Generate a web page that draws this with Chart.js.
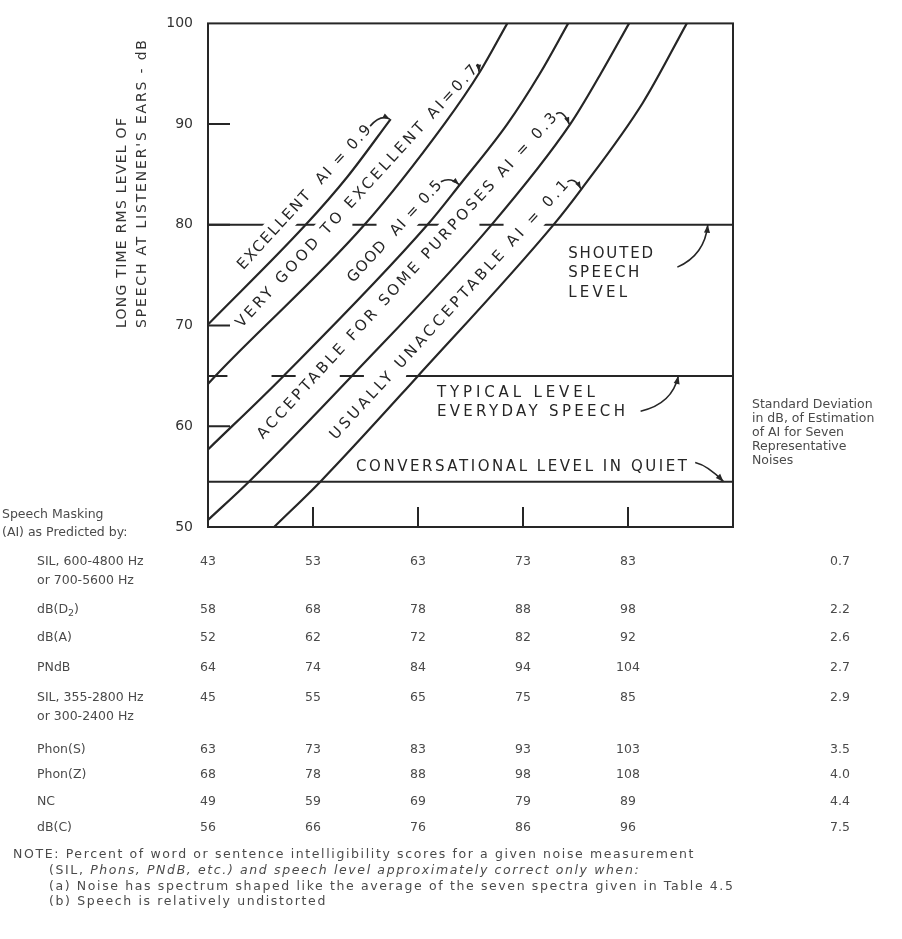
<!DOCTYPE html>
<html>
<head>
<meta charset="utf-8">
<script src="https://cdn.jsdelivr.net/npm/chart.js@4.4.1/dist/chart.umd.min.js"></script>
<style>
  html, body { margin: 0; padding: 0; background: #fff; }
  #wrap { width: 902px; height: 939px; }
</style>
</head>
<body>
<div id="wrap"><canvas id="myChart" width="902" height="939"></canvas></div>
<script>
// AI contours: [SIL (600-4800 Hz), speech level dB]
ai09 = [[43, 70.1], [52.3, 80], [56.3, 84.8], [60.4, 90.5]];
ai07 = [[43, 64.2], [43.7, 65], [57.9, 80], [65.5, 90], [68.9, 95.2], [71.5, 100]];
ai05 = [[43, 57.7], [50.2, 65], [63.9, 80], [67.0, 84.0], [71.5, 90], [74.6, 95], [77.3, 100]];
ai03 = [[43, 50.7], [46.9, 54.5], [56.7, 65], [70.0, 80], [77.5, 90], [80.4, 95], [83.1, 100]];
ai01 = [[49.3, 50], [53.7, 54.5], [63, 65], [75.9, 80], [78.6, 83.6], [84.4, 92.1], [88.6, 100]];

// speech levels
shoutedLevel = 80;
typicalLevel = 65;
quietLevel = 54.5;

yTicks = [50, 60, 70, 80, 90, 100];

// table under the chart
measureNames = ["SIL, 600-4800 Hz", "dB(D_2)", "dB(A)", "PNdB", "SIL, 355-2800 Hz", "Phon(S)", "Phon(Z)", "NC", "dB(C)"];
measureSub = ["or 700-5600 Hz", "", "", "", "or 300-2400 Hz", "", "", "", ""];
measureValues = [
    [43, 53, 63, 73, 83],
    [58, 68, 78, 88, 98],
    [52, 62, 72, 82, 92],
    [64, 74, 84, 94, 104],
    [45, 55, 65, 75, 85],
    [63, 73, 83, 93, 103],
    [68, 78, 88, 98, 108],
    [49, 59, 69, 79, 89],
    [56, 66, 76, 86, 96]
];
stdDev = ["0.7", "2.2", "2.6", "2.7", "2.9", "3.5", "4.0", "4.4", "7.5"];

var curves = [ai09, ai07, ai05, ai03, ai01];
var LETTER = '"DejaVu Sans", sans-serif';
var PLAIN = '"DejaVu Sans", sans-serif';
var INK = '#262626';
var ANG = 47.5 * Math.PI / 180;

function crossX(curve, lvl) {
    for (var i = 0; i < curve.length - 1; i++) {
        var a = curve[i], b = curve[i + 1];
        if ((a[1] - lvl) * (b[1] - lvl) <= 0 && a[1] !== b[1])
            return a[0] + (b[0] - a[0]) * (lvl - a[1]) / (b[1] - a[1]);
    }
    return null;
}

// level line drawn only outside the contours, with short marks where it crosses them
function brokenLine(lvl) {
    var xs = curves.map(function (c) { return crossX(c, lvl); })
        .filter(function (v) { return v !== null; }).sort(function (a, b) { return a - b; });
    var d = 1.15, pts = [{x: 43, y: lvl}, {x: xs[0] + d, y: lvl}, {x: xs[0] + d, y: null}];
    for (var i = 1; i < xs.length - 1; i++) {
        pts.push({x: xs[i] - d, y: lvl}, {x: xs[i] + d, y: lvl}, {x: xs[i] + d, y: null});
    }
    pts.push({x: xs[xs.length - 1] - d, y: lvl}, {x: 93, y: lvl});
    return pts;
}

function spacingFor(ctx, str, width) {
    ctx.letterSpacing = '0px';
    return (width - ctx.measureText(str).width) / Math.max(1, str.length - 1);
}

function fitText(ctx, str, x, y, width) {
    var sp = width ? spacingFor(ctx, str, width) : 0;
    ctx.letterSpacing = sp.toFixed(2) + 'px';
    ctx.fillText(str, x, y);
    ctx.letterSpacing = '0px';
}

function arrow(ctx, x0, y0, cx, cy, x1, y1, head) {
    ctx.beginPath();
    ctx.moveTo(x0, y0);
    ctx.quadraticCurveTo(cx, cy, x1, y1);
    ctx.stroke();
    var a = Math.atan2(y1 - cy, x1 - cx);
    var w = head * 0.38;
    ctx.beginPath();
    ctx.moveTo(x1, y1);
    ctx.lineTo(x1 - head * Math.cos(a) + w * Math.sin(a), y1 - head * Math.sin(a) - w * Math.cos(a));
    ctx.lineTo(x1 - head * Math.cos(a) - w * Math.sin(a), y1 - head * Math.sin(a) + w * Math.cos(a));
    ctx.closePath();
    ctx.fill();
}

var diagLabels = [
    {text: 'EXCELLENT  AI = 0.9', sil: 52.2, db: 82.7, len: 190, curve: ai09, at: 90.5},
    {text: 'VERY GOOD TO EXCELLENT AI=0.7', sil: 57.2, db: 82.8, len: 350, curve: ai07, at: 95.2},
    {text: 'GOOD  AI = 0.5', sil: 60.8, db: 79.3, len: 132, curve: ai05, at: 84.0},
    {text: 'ACCEPTABLE FOR SOME PURPOSES AI = 0.3', sil: 62.0, db: 74.9, len: 436, curve: ai03, at: 90},
    {text: 'USUALLY UNACCEPTABLE AI = 0.1', sil: 66.0, db: 71.5, len: 345, curve: ai01, at: 83.6}
];

var levelNotes = [
    {lines: ['SHOUTED', 'SPEECH', 'LEVEL'], widths: [85, 71, 59], sil: 77.3, db: 77.1,
        from: [87.7, 75.8], ctrl: [90.3, 77.0], to: [90.6, shoutedLevel]},
    {lines: ['TYPICAL LEVEL', 'EVERYDAY SPEECH'], widths: [158, 188], sil: 64.8, db: 63.3,
        from: [84.2, 61.5], ctrl: [87.2, 62.2], to: [87.8, typicalLevel]},
    {lines: ['CONVERSATIONAL LEVEL IN QUIET'], widths: [331], sil: 57.1, db: 55.9,
        from: [89.4, 56.4], ctrl: [90.6, 56.1], to: [92.1, quietLevel]}
];

var drawing = {
    id: 'drawing',
    afterDatasetDraw: function (chart, args) {
        // after the level lines, before the contours: clear the lines behind the slanted labels
        if (args.index !== 5) return;
        var ctx = chart.ctx, xs = chart.scales.x, ys = chart.scales.y;
        ctx.save();
        ctx.fillStyle = '#fff';
        diagLabels.forEach(function (d) {
            ctx.save();
            ctx.translate(xs.getPixelForValue(d.sil), ys.getPixelForValue(d.db));
            ctx.rotate(-ANG);
            ctx.fillRect(-d.len / 2 - 4, -12, d.len + 8, 24);
            ctx.restore();
        });
        ctx.restore();
    },
    afterDatasetsDraw: function (chart) {
        var ctx = chart.ctx, xs = chart.scales.x, ys = chart.scales.y, ca = chart.chartArea;
        ctx.save();
        ctx.strokeStyle = INK;
        ctx.fillStyle = INK;
        ctx.lineWidth = 2;
        ctx.strokeRect(ca.left, ca.top, ca.right - ca.left, ca.bottom - ca.top);

        // inward ticks
        ctx.beginPath();
        yTicks.slice(1, -1).forEach(function (v) {
            var y = ys.getPixelForValue(v);
            ctx.moveTo(ca.left, y); ctx.lineTo(ca.left + 22, y);
        });
        measureValues[0].slice(1).forEach(function (v) {
            var x = xs.getPixelForValue(v);
            ctx.moveTo(x, ca.bottom); ctx.lineTo(x, ca.bottom - 20);
        });
        ctx.stroke();

        // slanted labels with arrows to their contour
        ctx.font = '15px ' + LETTER;
        ctx.textBaseline = 'middle';
        ctx.textAlign = 'left';
        ctx.lineWidth = 1.6;
        diagLabels.forEach(function (d) {
            var cx = xs.getPixelForValue(d.sil), cy = ys.getPixelForValue(d.db);
            ctx.save();
            ctx.translate(cx, cy);
            ctx.rotate(-ANG);
            fitText(ctx, d.text, -d.len / 2, 0, d.len);
            ctx.restore();
            var ex = cx + Math.cos(ANG) * (d.len / 2 + 2), ey = cy - Math.sin(ANG) * (d.len / 2 + 2);
            var tx = xs.getPixelForValue(crossX(d.curve, d.at)), ty = ys.getPixelForValue(d.at);
            arrow(ctx, ex, ey, (ex + tx) / 2, Math.min(ey, ty) - 5, tx - 1, ty, 7);
        });

        // level notes
        levelNotes.forEach(function (n) {
            var x = xs.getPixelForValue(n.sil), y = ys.getPixelForValue(n.db);
            n.lines.forEach(function (s, i) { fitText(ctx, s, x, y + i * 19.5, n.widths[i]); });
            arrow(ctx, xs.getPixelForValue(n.from[0]), ys.getPixelForValue(n.from[1]),
                xs.getPixelForValue(n.ctrl[0]), ys.getPixelForValue(n.ctrl[1]),
                xs.getPixelForValue(n.to[0]), ys.getPixelForValue(n.to[1]), 8);
        });
        ctx.restore();
    },
    afterDraw: function (chart) {
        var ctx = chart.ctx, xs = chart.scales.x;
        ctx.save();
        ctx.fillStyle = '#333';
        ctx.textBaseline = 'middle';
        ctx.textAlign = 'left';

        // y axis title
        ctx.font = '14px ' + LETTER;
        [['LONG TIME RMS LEVEL OF', 122, 210], ["SPEECH AT LISTENER'S EARS - dB", 142, 288]].forEach(function (t) {
            ctx.save();
            ctx.translate(t[1], 328);
            ctx.rotate(-Math.PI / 2);
            fitText(ctx, t[0], 0, 0, t[2]);
            ctx.restore();
        });

        // table
        ctx.fillStyle = '#4a4a4a';
        ctx.font = '12.5px ' + PLAIN;
        ctx.fillText('Speech Masking', 2, 515);
        ctx.fillText('(AI) as Predicted by:', 2, 533);
        var hdr = ['Standard Deviation', 'in dB, of Estimation', 'of AI for Seven', 'Representative', 'Noises'];
        hdr.forEach(function (s, i) { ctx.fillText(s, 752, 405 + i * 14); });

        var rowY = [562, 610, 638, 668, 698, 750, 775, 802, 828];
        measureNames.forEach(function (name, r) {
            var y = rowY[r];
            ctx.textAlign = 'left';
            if (name.indexOf('_') > 0) {
                var p = name.split('_');
                var head = p[0], sub = p[1].charAt(0), tail = p[1].slice(1);
                ctx.fillText(head, 37, y);
                var w = ctx.measureText(head).width;
                ctx.font = '9.5px ' + PLAIN;
                ctx.fillText(sub, 37 + w, y + 4);
                var w2 = ctx.measureText(sub).width;
                ctx.font = '12.5px ' + PLAIN;
                ctx.fillText(tail, 37 + w + w2, y);
            } else {
                ctx.fillText(name, 37, y);
                if (measureSub[r]) ctx.fillText(measureSub[r], 37, y + 19);
            }
            ctx.textAlign = 'center';
            measureValues[r].forEach(function (v, c) {
                ctx.fillText(String(v), xs.getPixelForValue(measureValues[0][c]), y);
            });
            ctx.fillText(stdDev[r], 840, y);
        });

        // note, all lines share the spacing of the first one
        ctx.textAlign = 'left';
        ctx.font = '12.5px ' + PLAIN;
        var first = 'NOTE: Percent of word or sentence intelligibility scores for a given noise measurement';
        var sp = Math.max(0, spacingFor(ctx, first, 680)).toFixed(2) + 'px';
        ctx.letterSpacing = sp;
        ctx.fillText(first, 13, 855);
        ctx.fillText('(SIL, ', 49, 871);
        var w0 = ctx.measureText('(SIL, ').width;
        ctx.font = 'italic 12.5px ' + PLAIN;
        ctx.letterSpacing = sp;
        ctx.fillText('Phons, PNdB, etc.) and speech level approximately correct only when:', 49 + w0, 871);
        ctx.font = '12.5px ' + PLAIN;
        ctx.letterSpacing = sp;
        ctx.fillText('(a) Noise has spectrum shaped like the average of the seven spectra given in Table 4.5', 49, 887);
        ctx.fillText('(b) Speech is relatively undistorted', 49, 902);
        ctx.letterSpacing = '0px';
        ctx.restore();
    }
};

function line(pts, w) {
    return {
        data: pts.map(function (p) { return {x: p[0], y: p[1]}; }),
        borderColor: INK, borderWidth: w, pointRadius: 0, fill: false,
        cubicInterpolationMode: 'monotone'
    };
}

var datasets = curves.map(function (c) { return line(c, 2.2); });
[shoutedLevel, typicalLevel].forEach(function (l) {
    datasets.push({data: brokenLine(l), borderColor: INK, borderWidth: 2, pointRadius: 0, fill: false, tension: 0});
});
datasets.push({data: [{x: 43, y: quietLevel}, {x: 93, y: quietLevel}], borderColor: INK, borderWidth: 2, pointRadius: 0, fill: false});

var ctx = document.getElementById('myChart').getContext('2d');
var myChart = new Chart(ctx, {
    type: 'line',
    data: {datasets: datasets},
    options: {
        responsive: false,
        animation: false,
        events: [],
        layout: {padding: {top: 20, right: 169, bottom: 412, left: 0}},
        plugins: {legend: {display: false}, tooltip: {enabled: false}},
        scales: {
            x: {type: 'linear', min: 43, max: 93, display: false},
            y: {
                type: 'linear', min: 50, max: 100,
                afterFit: function (s) { s.width = 208; },
                afterBuildTicks: function (s) { s.ticks = yTicks.map(function (v) { return {value: v}; }); },
                grid: {display: false, drawTicks: false},
                border: {display: false},
                ticks: {padding: 15, color: '#333', font: {family: 'DejaVu Sans', size: 14}}
            }
        }
    },
    plugins: [drawing]
});
</script>
</body>
</html>
